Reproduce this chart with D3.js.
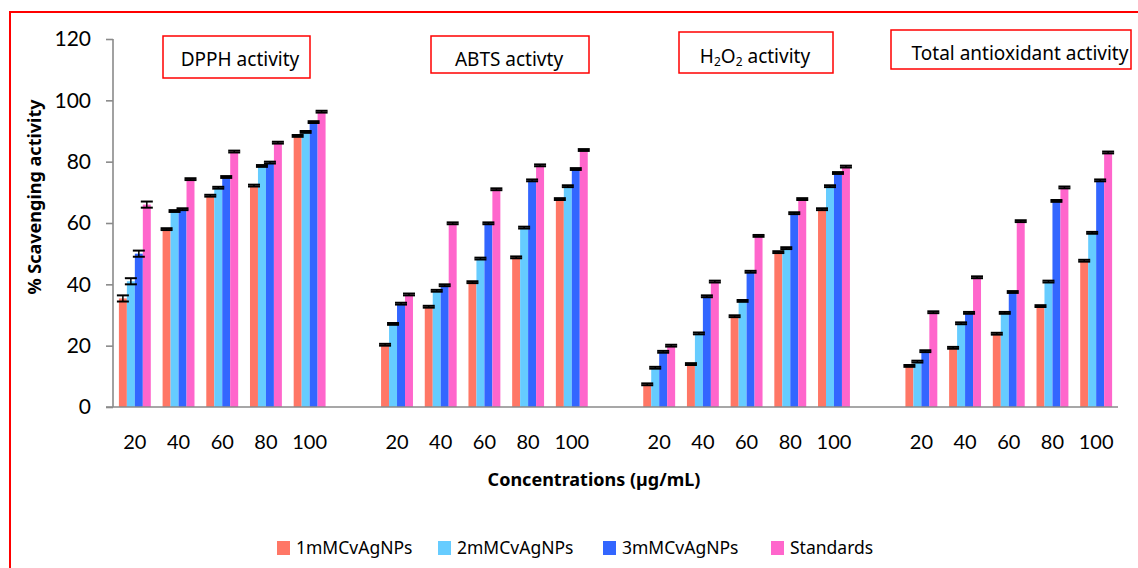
<!DOCTYPE html>
<html>
<head>
<meta charset="utf-8">
<script src="https://cdn.jsdelivr.net/npm/d3@7"></script>
<style>
  html, body { margin: 0; padding: 0; background: #fff; }
  svg { display: block; }
</style>
</head>
<body>
<svg id="chart" width="1138" height="568"></svg>
<script>
// ---- data -------------------------------------------------------------
const assays = ["DPPH", "ABTS", "H2O2", "Total"];
const concentrations = ["20", "40", "60", "80", "100"];
const seriesNames = ["1mMCvAgNPs", "2mMCvAgNPs", "3mMCvAgNPs", "Standards"];
const seriesColors = ["#FF7766", "#66CCFF", "#3366FF", "#FF66CC"];
const yTicks = [0, 20, 40, 60, 80, 100, 120];

// % scavenging, one row per series, one column per concentration
const dpph = [
  [35.4, 58.0, 68.9, 72.2, 88.4],
  [41.0, 63.9, 71.5, 78.6, 89.7],
  [50.0, 64.5, 75.0, 79.7, 92.9],
  [66.0, 74.3, 83.3, 86.2, 96.3]
];
const abts = [
  [20.3, 32.7, 40.7, 48.8, 67.8],
  [27.1, 37.9, 48.4, 58.5, 72.0],
  [33.7, 39.7, 59.9, 73.9, 77.6],
  [36.7, 59.9, 71.0, 78.8, 83.8]
];
const h2o2 = [
  [7.4, 14.0, 29.6, 50.5, 64.5],
  [12.8, 24.0, 34.6, 51.8, 72.0],
  [18.0, 36.1, 44.1, 63.2, 76.3],
  [20.0, 40.9, 55.8, 67.8, 78.4]
];
const total = [
  [13.4, 19.3, 23.9, 32.9, 47.7],
  [14.8, 27.3, 30.7, 40.9, 56.8],
  [18.2, 30.7, 37.5, 67.2, 73.9],
  [30.9, 42.3, 60.6, 71.6, 83.0]
];
// standard deviation for each bar (same layout)
const dpphErr  = [[1.0, 0.3, 0.3, 0.3, 0.3], [1.0, 0.3, 0.3, 0.3, 0.3], [1.0, 0.3, 0.3, 0.3, 0.3], [1.0, 0.3, 0.3, 0.3, 0.3]];
const abtsErr  = [[0.3, 0.3, 0.3, 0.3, 0.3], [0.3, 0.3, 0.3, 0.3, 0.3], [0.3, 0.3, 0.3, 0.3, 0.3], [0.3, 0.3, 0.3, 0.3, 0.3]];
const h2o2Err  = [[0.3, 0.3, 0.3, 0.3, 0.3], [0.3, 0.3, 0.3, 0.3, 0.3], [0.3, 0.3, 0.3, 0.3, 0.3], [0.3, 0.3, 0.3, 0.3, 0.3]];
const totalErr = [[0.3, 0.3, 0.3, 0.3, 0.3], [0.3, 0.3, 0.3, 0.3, 0.3], [0.3, 0.3, 0.3, 0.3, 0.3], [0.3, 0.3, 0.3, 0.3, 0.3]];

const assayValues = [dpph, abts, h2o2, total];
const assayErrors = [dpphErr, abtsErr, h2o2Err, totalErr];

// ---- layout -----------------------------------------------------------
const svg = d3.select("#chart");
const plotLeft = 113, plotRight = 1118, plotTop = 39, plotBottom = 407;
const numFont = "Lato, 'Open Sans', sans-serif";
const textFont = "'Noto Sans', 'DejaVu Sans', sans-serif";

// outer frame
svg.append("rect")
  .attr("x", 10).attr("y", 12).attr("width", 1150).attr("height", 600)
  .attr("fill", "none").attr("stroke", "#FF0000").attr("stroke-width", 2);

// category slots: 5 concentrations per assay, with an empty slot between assays
const slots = [];
assays.forEach((a, ai) => {
  concentrations.forEach(c => slots.push(a + "|" + c));
  if (ai < assays.length - 1) slots.push(a + "|gap");
});

const x = d3.scaleBand().domain(slots).range([plotLeft, plotRight])
  .paddingInner(0.27).paddingOuter(0.135);
const xInner = d3.scaleBand().domain(seriesNames).range([0, x.bandwidth()]);
const y = d3.scaleLinear().domain([0, 120]).range([plotBottom, plotTop]);

// bars
const bars = [];
assays.forEach((a, ai) => {
  seriesNames.forEach((s, si) => {
    concentrations.forEach((c, ci) => {
      bars.push({
        slot: a + "|" + c, series: s, color: seriesColors[si],
        value: assayValues[ai][si][ci], err: assayErrors[ai][si][ci]
      });
    });
  });
});

const gBars = svg.append("g");
gBars.selectAll("rect").data(bars).join("rect")
  .attr("x", d => x(d.slot) + xInner(d.series))
  .attr("y", d => y(d.value))
  .attr("width", xInner.bandwidth())
  .attr("height", d => y(0) - y(d.value))
  .attr("fill", d => d.color);

// error bars
const capHalf = 6;
const gErr = svg.append("g").attr("stroke", "#000");
bars.forEach(d => {
  const cx = x(d.slot) + xInner(d.series) + xInner.bandwidth() / 2;
  const yHi = y(d.value + d.err), yLo = y(d.value - d.err);
  gErr.append("line").attr("x1", cx).attr("x2", cx).attr("y1", yHi).attr("y2", yLo)
    .attr("stroke-width", 1.5);
  [yHi, yLo].forEach(yy => gErr.append("line")
    .attr("x1", cx - capHalf).attr("x2", cx + capHalf)
    .attr("y1", yy).attr("y2", yy).attr("stroke-width", 2));
});

// y axis
const yAxis = svg.append("g").attr("transform", `translate(${plotLeft},0)`)
  .call(d3.axisLeft(y).tickValues(yTicks).tickSize(7).tickPadding(15));
yAxis.select(".domain").attr("stroke", "#8a8a8a").attr("stroke-width", 1.6)
  .attr("d", `M0,${plotTop}V${plotBottom}`);
yAxis.selectAll(".tick line").attr("stroke", "#8a8a8a").attr("stroke-width", 1.6);
yAxis.selectAll(".tick text").attr("font-family", numFont).attr("font-size", 21)
  .attr("fill", "#000");

// x axis (baseline + concentration labels)
const xAxis = svg.append("g").attr("transform", `translate(0,${plotBottom})`)
  .call(d3.axisBottom(x).tickValues(slots.filter(s => !s.endsWith("gap")))
    .tickSize(0).tickPadding(28).tickFormat(s => s.split("|")[1]));
xAxis.select(".domain").attr("stroke", "#8a8a8a").attr("stroke-width", 1.6)
  .attr("d", `M${plotLeft - 7},0H${plotRight}`);
xAxis.selectAll(".tick text").attr("font-family", numFont).attr("font-size", 20)
  .attr("fill", "#000");

// axis titles
svg.append("text")
  .attr("transform", "translate(41,197) rotate(-90)")
  .attr("text-anchor", "middle")
  .attr("font-family", textFont).attr("font-weight", "bold").attr("font-size", 18)
  .text("% Scavenging activity");

svg.append("text")
  .attr("x", 594).attr("y", 486).attr("text-anchor", "middle")
  .attr("font-family", textFont).attr("font-weight", "bold").attr("font-size", 18)
  .text("Concentrations (µg/mL)");

// assay title boxes
const titleBoxes = [
  { x: 163, y: 36, w: 147, h: 42, tx: 240, ty: 66 },
  { x: 431, y: 36, w: 158, h: 37, tx: 509, ty: 66 },
  { x: 679, y: 32, w: 154, h: 41, tx: 755, ty: 63 },
  { x: 891, y: 30, w: 240, h: 39, tx: 1020, ty: 60 }
];
const gTitles = svg.append("g");
titleBoxes.forEach((b, i) => {
  gTitles.append("rect").attr("x", b.x).attr("y", b.y).attr("width", b.w).attr("height", b.h)
    .attr("fill", "#fff").attr("stroke", "#FF0000").attr("stroke-width", 1.5);
  const t = gTitles.append("text").attr("x", b.tx).attr("y", b.ty)
    .attr("text-anchor", "middle").attr("font-family", textFont).attr("font-size", 19)
    .attr("fill", "#000");
  if (assays[i] === "H2O2") {
    t.append("tspan").text("H");
    t.append("tspan").attr("font-size", 12).attr("dy", 3).text("2");
    t.append("tspan").attr("dy", -3).text("O");
    t.append("tspan").attr("font-size", 12).attr("dy", 3).text("2");
    t.append("tspan").attr("dy", -3).text(" activity");
  } else if (assays[i] === "DPPH") {
    t.text("DPPH activity");
  } else if (assays[i] === "ABTS") {
    t.text("ABTS activty");
  } else {
    t.text("Total antioxidant activity");
  }
});

// legend
const legendX = [277, 438, 603, 771];
const gLegend = svg.append("g");
seriesNames.forEach((s, i) => {
  gLegend.append("rect").attr("x", legendX[i]).attr("y", 541)
    .attr("width", 13).attr("height", 14).attr("fill", seriesColors[i]);
  gLegend.append("text").attr("x", legendX[i] + 19).attr("y", 554)
    .attr("font-family", textFont).attr("font-size", 17.5).attr("fill", "#000")
    .text(s);
});
</script>
</body>
</html>
